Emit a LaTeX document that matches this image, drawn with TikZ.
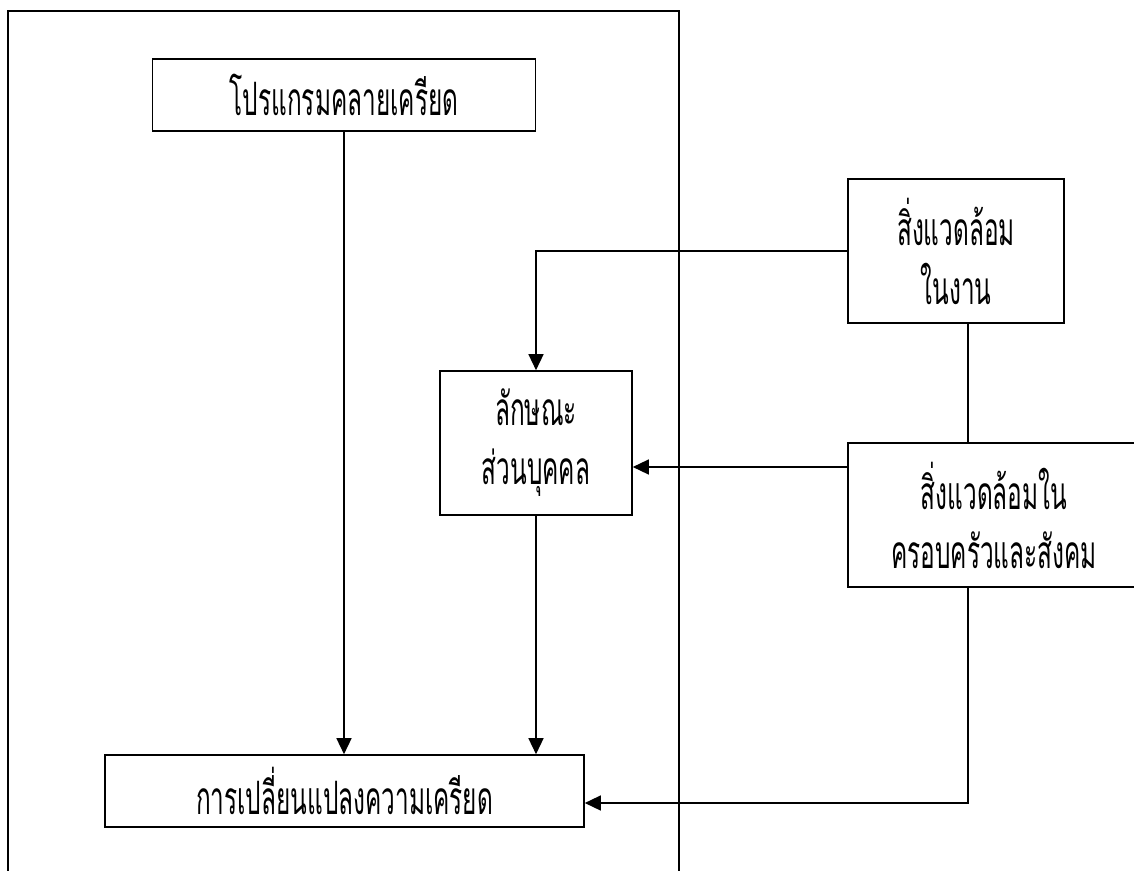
\documentclass[tikz,border=0pt]{standalone}
\usepackage{fontspec}
\newfontfamily\thaifont[Script=Thai,FakeStretch=0.53]{Loma}
\usetikzlibrary{arrows.meta}

\tikzset{
  box/.style={draw,line width=1.6pt,inner sep=0pt,align=center,
    font=\thaifont\fontsize{46}{59}\selectfont},
  link/.style={line width=1.4pt}
}

\begin{document}
\begin{tikzpicture}[x=1pt,y=-1pt,>={Triangle[length=16pt,width=15pt]}]
		\useasboundingbox (0,0) rectangle (1134,870);
		% frame, open at the bottom
		\draw [line width=1.6pt] (8,890) -- (8,11) -- (679,11) -- (679,890);
		% boxes
		\node [box,minimum width=383pt,minimum height=72pt] (prog) at (344,95) {โปรแกรมคลายเครียด};
		\node [box,minimum width=192pt,minimum height=144pt] (pers) at (536,443) {ลักษณะ\\ส่วนบุคคล};
		\node [box,minimum width=216pt,minimum height=144pt] (work) at (956,251) {สิ่งแวดล้อม\\ในงาน};
		\node [box,minimum width=292pt,minimum height=144pt] (fam) at (994,515) {สิ่งแวดล้อมใน\\ครอบครัวและสังคม};
		\node [box,minimum width=479pt,minimum height=72pt] (change) at (344.5,791) {การเปลี่ยนแปลงความเครียด};
		% connectors
		\draw [link,->] (prog) -- (prog |- change.north);
		\draw [link,->] (pers) -- (pers |- change.north);
		\draw [link,->] (work.west) -| (pers.north);
		\draw [link] ([xshift=12pt]work.south) -- ([xshift=12pt]work.south |- fam.north);
		\draw [link,->] ([yshift=48pt]fam.west) -- ([yshift=48pt]fam.west -| pers.east);
		\draw [link,->] ([xshift=-26pt]fam.south) |- ([yshift=-12pt]change.east);
\end{tikzpicture}
\end{document}
